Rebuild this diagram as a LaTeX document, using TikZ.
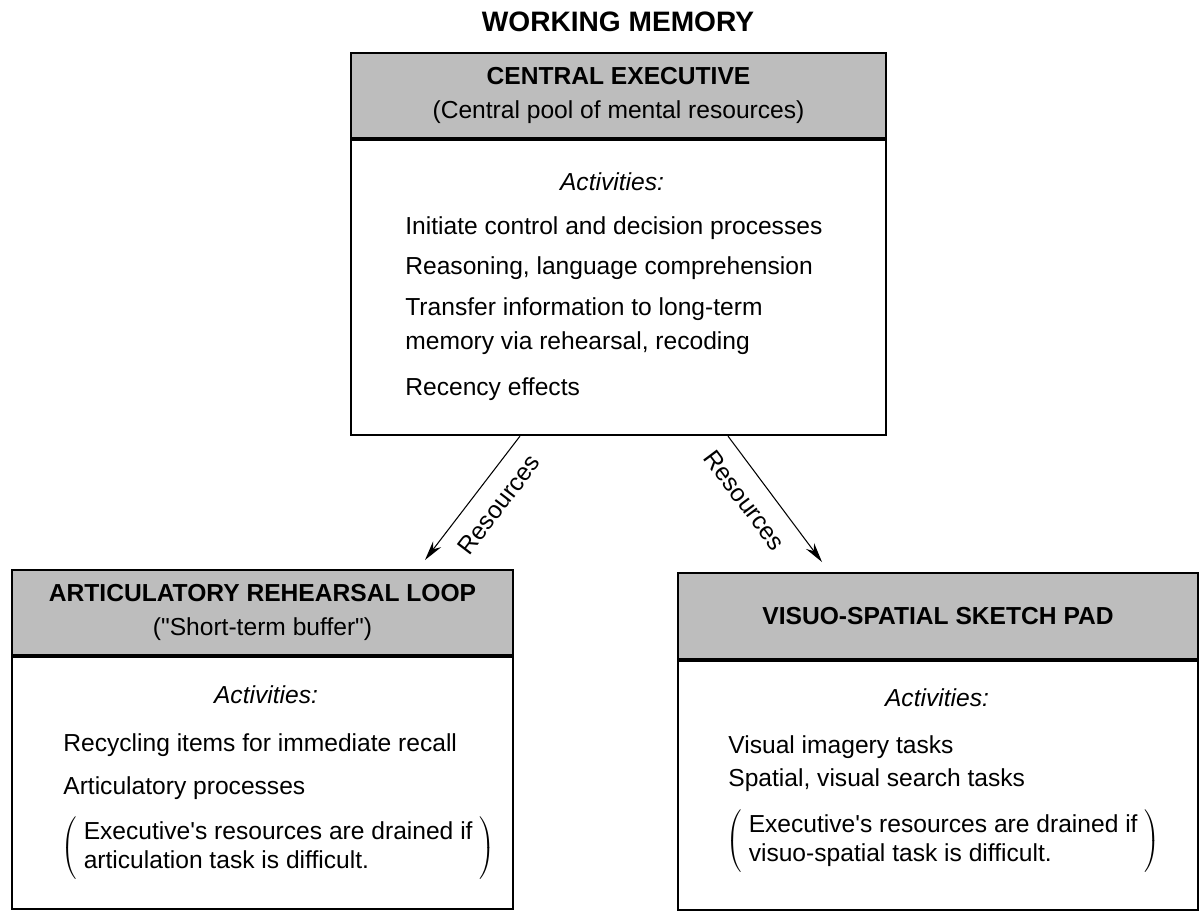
\documentclass[tikz,border=0pt]{standalone}
\usepackage{fontspec}
\setmainfont{Liberation Sans}
\usetikzlibrary{arrows.meta}
\definecolor{headgray}{gray}{0.74}

\begin{document}
\begin{tikzpicture}[x=0.02cm, y=-0.02cm,
        head/.style={draw, line width=1.2pt, fill=headgray, align=center, inner sep=0pt,
            font=\fontsize{14}{19.5}\selectfont\bfseries},
        body/.style={draw, line width=1.2pt, anchor=north, inner sep=0pt},
        txt/.style={anchor=west, inner sep=0pt, font=\fontsize{14}{17}\selectfont},
        lbl/.style={inner sep=2pt, font=\fontsize{14}{17}\selectfont},
        arr/.style={-{Stealth[length=4mm, width=2mm]}, line width=0.6pt}]
        \useasboundingbox (0,0) rectangle (1200,910);

        \node[font=\fontsize{16}{19}\selectfont\bfseries] (title) at (618,22) {WORKING MEMORY};

        % central executive
        \node[head, minimum width=10.7cm, minimum height=1.7cm] (ceHead) at (618.5,95.5)
            {CENTRAL EXECUTIVE\\\mdseries (Central pool of mental resources)};
        \node[body, minimum width=10.7cm, minimum height=5.9cm] (ce) at (ceHead.south) {};
        \node[lbl, inner sep=0pt] (ceAct) at (612,182) {\itshape Activities:};
        \node[txt] (ce1) at (405,228) {Initiate control and decision processes};
        \node[txt] (ce2) at (405,268) {Reasoning, language comprehension};
        \node[txt] (ce3) at (405,309) {Transfer information to long-term};
        \node[txt] (ce4) at (405,343) {memory via rehearsal, recoding};
        \node[txt] (ce5) at (405,389) {Recency effects};

        % articulatory rehearsal loop
        \node[head, minimum width=10.02cm, minimum height=1.7cm] (arlHead) at (262.5,612.5)
            {ARTICULATORY REHEARSAL LOOP\\\mdseries (\textquotedbl Short-term buffer\textquotedbl)};
        \node[body, minimum width=10.02cm, minimum height=5.04cm] (arl) at (arlHead.south) {};
        \node[lbl, inner sep=0pt] (arlAct) at (266,695) {\itshape Activities:};
        \node[txt] (arl1) at (63,745) {Recycling items for immediate recall};
        \node[txt] (arl2) at (63,788) {Articulatory processes};
        \node[txt] (arl3) at (61,848) {$\left(\;\begin{tabular}{@{}l@{}}Executive\textquotesingle s resources are drained if\\
            articulation task is difficult.\end{tabular}\;\right)$};

        % visuo-spatial sketch pad
        \node[head, minimum width=10.4cm, minimum height=1.72cm] (vsHead) at (938,616)
            {VISUO-SPATIAL SKETCH PAD};
        \node[body, minimum width=10.4cm, minimum height=4.98cm] (vs) at (vsHead.south) {};
        \node[lbl, inner sep=0pt] (vsAct) at (937,698) {\itshape Activities:};
        \node[txt] (vs1) at (728,747) {Visual imagery tasks};
        \node[txt] (vs2) at (728,780) {Spatial, visual search tasks};
        \node[txt] (vs3) at (726,841) {$\left(\;\begin{tabular}{@{}l@{}}Executive\textquotesingle s resources are drained if\\
            visuo-spatial task is difficult.\end{tabular}\;\right)$};

        % resources
        \coordinate (arlIn) at (425,560);
        \coordinate (vsIn) at (822,562);
        \draw[arr] ([xshift=-1.97cm]ce.south) -- node[lbl, sloped, below=7pt, pos=0.43] {Resources} (arlIn);
        \draw[arr] ([xshift=2.19cm]ce.south) -- node[lbl, sloped, below=7pt, pos=0.39] {Resources} (vsIn);
\end{tikzpicture}
\end{document}
